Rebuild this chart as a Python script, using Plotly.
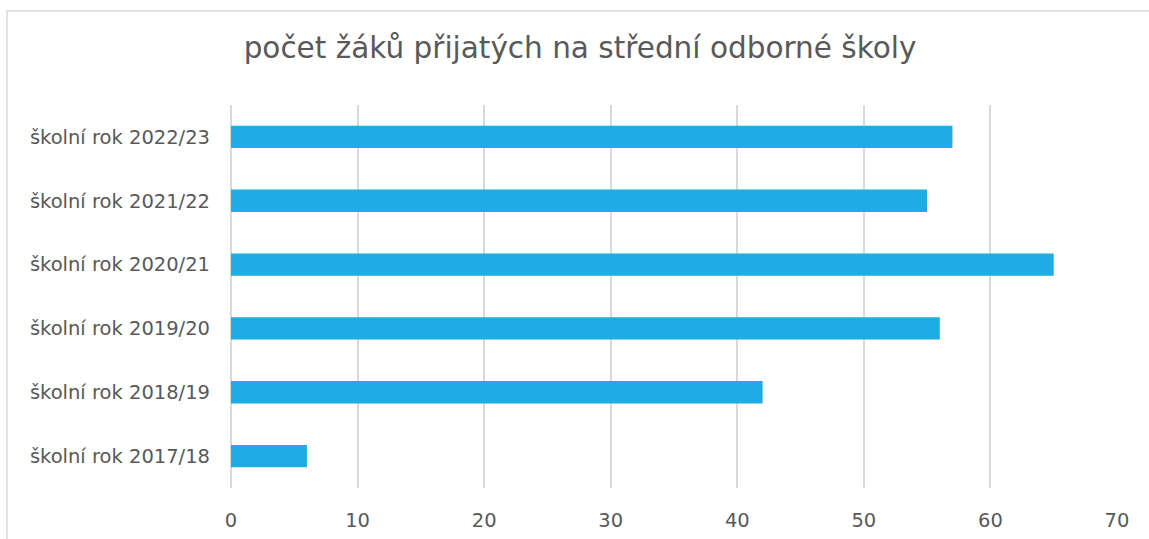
import plotly.graph_objects as go

categories = ["školní rok 2017/18", "školní rok 2018/19", "školní rok 2019/20",
              "školní rok 2020/21", "školní rok 2021/22", "školní rok 2022/23"]
values = [6, 42, 56, 65, 55, 57]
x_ticks = [0, 10, 20, 30, 40, 50, 60, 70]
title_text = "počet žáků přijatých na střední odborné školy"

W, H = 1149, 539
ml, mr, mt, mb = 231, 32, 105, 51
pw, ph = W - ml - mr, H - mt - mb

fig = go.Figure(go.Bar(
    y=categories, x=values, orientation="h",
    marker=dict(color="#1DACE3", line=dict(width=0)),
    hoverinfo="x+y",
))

font_family = "DejaVu Sans"
fig.update_layout(
    width=W, height=H,
    margin=dict(l=ml, r=mr, t=mt, b=mb, autoexpand=False),
    paper_bgcolor="white", plot_bgcolor="white",
    bargap=0.65,
    showlegend=False,
    title=dict(text=title_text, x=(580) / W, xanchor="center", y=1 - 48 / H, yanchor="middle",
               font=dict(family=font_family, size=29.5, color="#595959")),
    font=dict(family=font_family, color="#595959"),
    xaxis=dict(range=[0, 70], tickvals=x_ticks, showgrid=True, gridcolor="#D9D9D9", gridwidth=1.5,
               zeroline=True, zerolinecolor="#D9D9D9", zerolinewidth=1.5, showline=False,
               tickfont=dict(size=19.5, color="#595959"), ticklabelstandoff=18, fixedrange=True),
    yaxis=dict(showgrid=False, zeroline=False, showline=False,
               tickfont=dict(size=19.5, color="#595959"), ticklabelstandoff=20, fixedrange=True),
    shapes=[dict(type="rect", xref="paper", yref="paper",
                 x0=(7 - ml) / pw, x1=(W + 20 - ml) / pw,
                 y0=-(mb + 20) / ph, y1=1 + (mt - 11) / ph,
                 line=dict(color="#D9D9D9", width=1.5), fillcolor="rgba(0,0,0,0)", layer="below")],
)

fig.write_html("out.html", config={"displayModeBar": False},
               post_script="document.body.style.margin='0';document.body.style.overflow='hidden';")
